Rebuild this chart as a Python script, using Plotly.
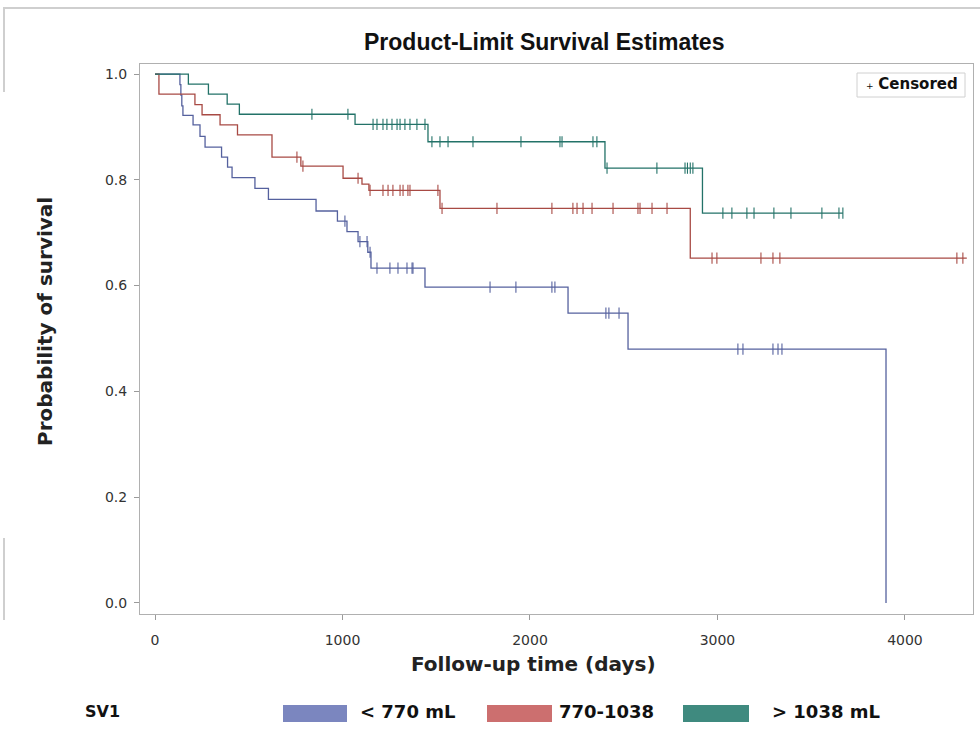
import plotly.graph_objects as go

# ---------------- data ----------------
group_labels = ["< 770 mL", "770-1038", "> 1038 mL"]

blue_times = [133, 138, 143, 149, 203, 240, 267, 355, 387, 411, 533, 605, 859, 973,
              1024, 1083, 1135, 1152, 1440, 2203, 2523, 3899]
blue_surv = [0.980, 0.960, 0.940, 0.922, 0.904, 0.882, 0.862, 0.843, 0.824, 0.804,
             0.784, 0.763, 0.741, 0.722, 0.702, 0.683, 0.663, 0.633, 0.597, 0.548,
             0.480, 0.0]
blue_end = 3899
blue_censor = [1013, 1093, 1131, 1147, 1184, 1253, 1296, 1344, 1371, 1376, 1787, 1925,
               2117, 2133, 2405, 2421, 2475, 3109, 3136, 3296, 3323, 3344]

red_times = [21, 213, 251, 347, 440, 624, 778, 1003, 1104, 1141, 1520, 2855]
red_surv = [0.962, 0.942, 0.923, 0.904, 0.885, 0.843, 0.826, 0.803, 0.792, 0.780,
            0.746, 0.652]
red_end = 4330
red_censor = [757, 789, 1083, 1147, 1216, 1243, 1269, 1307, 1323, 1349, 1360, 1509,
              1531, 1824, 2117, 2229, 2251, 2283, 2331, 2443, 2576, 2587, 2651, 2731,
              2971, 2997, 3232, 3296, 3333, 4277, 4309]

green_times = [178, 285, 385, 450, 1067, 1456, 2400, 2920]
green_surv = [0.981, 0.962, 0.943, 0.924, 0.905, 0.872, 0.822, 0.737]
green_end = 3669
green_censor = [837, 1029, 1163, 1184, 1216, 1237, 1264, 1291, 1307, 1333, 1360, 1397,
                1440, 1477, 1520, 1563, 1696, 1952, 2160, 2171, 2336, 2357, 2411, 2677,
                2827, 2840, 2855, 2869, 3029, 3077, 3157, 3195, 3301, 3392, 3557, 3648,
                3669]

x_ticks = [0, 1000, 2000, 3000, 4000]
y_ticks = [0.0, 0.2, 0.4, 0.6, 0.8, 1.0]

# ---------------- styling ----------------
line_colors = ["#55619e", "#a84a44", "#237268"]
swatch_colors = ["#7b86bf", "#cc6f6f", "#3f8a7f"]

W, H = 980, 740
L, R, T, B = 140, 973, 64, 614


def pxx(x):
    return (x - L) / (R - L)


def pxy(y):
    return (B - y) / (B - T)


def surv_at(t, times, surv):
    s = 1.0
    for ti, si in zip(times, surv):
        if ti <= t:
            s = si
        else:
            break
    return s


groups = [
    (blue_times, blue_surv, blue_end, blue_censor),
    (red_times, red_surv, red_end, red_censor),
    (green_times, green_surv, green_end, green_censor),
]

fig = go.Figure()

for i, (times, surv, end, cens) in enumerate(groups):
    xs = [0] + list(times)
    ys = [1.0] + list(surv)
    if end > times[-1]:
        xs.append(end)
        ys.append(surv[-1])
    fig.add_trace(go.Scatter(
        x=xs, y=ys, mode="lines", line=dict(color=line_colors[i], width=1.3, shape="hv"),
        name=group_labels[i], showlegend=False, hoverinfo="x+y+name"))
    cy = [surv_at(t, times, surv) for t in cens]
    fig.add_trace(go.Scatter(
        x=cens, y=cy, mode="markers",
        marker=dict(symbol="line-ns", size=8, line=dict(width=1.1, color=line_colors[i])),
        name=group_labels[i] + " censored", showlegend=False, hoverinfo="x+y+name"))

fig.update_layout(
    width=W, height=H,
    margin=dict(l=L, r=W - R, t=T, b=H - B, pad=0),
    paper_bgcolor="white", plot_bgcolor="white",
    showlegend=False,
    font=dict(family="DejaVu Sans", size=14, color="#333333"),
)

fig.update_xaxes(
    range=[-80, 4363], tickvals=x_ticks, ticks="outside", ticklen=5, tickcolor="#9a9a9a",
    showline=True, linecolor="#b0b0b0", linewidth=1, mirror=True, showgrid=False,
    zeroline=False, tickfont=dict(family="DejaVu Sans", size=14, color="#333333"),
    ticklabelstandoff=8,
)
fig.update_yaxes(
    range=[-0.021, 1.019], tickvals=y_ticks, tickformat=".1f", ticks="outside", ticklen=5,
    tickcolor="#9a9a9a", showline=True, linecolor="#b0b0b0", linewidth=1, mirror=True,
    showgrid=False, zeroline=False,
    tickfont=dict(family="DejaVu Sans", size=14, color="#333333"),
    ticklabelstandoff=4,
)

ann = []
# title
ann.append(dict(text="<b>Product-Limit Survival Estimates</b>", x=pxx(544), y=pxy(42),
                xref="paper", yref="paper", xanchor="center", yanchor="middle",
                showarrow=False,
                font=dict(family="Liberation Sans Narrow, Liberation Sans, Arial", size=23,
                          color="#111111")))
# axis titles
ann.append(dict(text="<b>Follow-up time (days)</b>", x=pxx(533), y=pxy(664),
                xref="paper", yref="paper", xanchor="center", yanchor="middle",
                showarrow=False, font=dict(family="DejaVu Sans", size=20, color="#222222")))
ann.append(dict(text="<b>Probability of survival</b>", x=pxx(45), y=pxy(322),
                xref="paper", yref="paper", xanchor="center", yanchor="middle",
                textangle=-90, showarrow=False,
                font=dict(family="DejaVu Sans", size=20, color="#222222")))
# censored inset legend
ann.append(dict(text="<span style='font-size:9px'>+</span> <b>Censored</b>",
                x=pxx(960), y=pxy(84), xref="paper", yref="paper", xanchor="right",
                yanchor="middle", showarrow=False,
                font=dict(family="DejaVu Sans", size=15, color="#111111")))
# bottom legend
ann.append(dict(text="<b>SV1</b>", x=pxx(83), y=pxy(711), xref="paper", yref="paper",
                xanchor="left", yanchor="middle", showarrow=False,
                font=dict(family="DejaVu Sans", size=16, color="#111111")))

swatch_x = [(283, 347), (487, 552), (683, 749)]
label_x = [358, 557, 770]
shapes = []
for i in range(3):
    x0, x1 = swatch_x[i]
    shapes.append(dict(type="rect", xref="paper", yref="paper",
                       x0=pxx(x0), x1=pxx(x1), y0=pxy(722), y1=pxy(705),
                       fillcolor=swatch_colors[i], line=dict(width=0)))
    txt = group_labels[i].replace("<", "&lt;").replace(">", "&gt;")
    ann.append(dict(text="<b>" + txt + "</b>", x=pxx(label_x[i]), y=pxy(711),
                    xref="paper", yref="paper", xanchor="left", yanchor="middle",
                    showarrow=False,
                    font=dict(family="DejaVu Sans", size=18, color="#111111")))

# inset box for "Censored"
shapes.append(dict(type="rect", xref="paper", yref="paper",
                   x0=pxx(857), x1=pxx(965), y0=pxy(97), y1=pxy(73),
                   fillcolor="rgba(0,0,0,0)", line=dict(color="#d0d0d0", width=1)))
# outer graph frame fragments
shapes.append(dict(type="line", xref="paper", yref="paper", x0=pxx(3), x1=pxx(980),
                   y0=pxy(8), y1=pxy(8), line=dict(color="#cfcfcf", width=2)))
shapes.append(dict(type="line", xref="paper", yref="paper", x0=pxx(4), x1=pxx(4),
                   y0=pxy(8), y1=pxy(92), line=dict(color="#cfcfcf", width=2)))
shapes.append(dict(type="line", xref="paper", yref="paper", x0=pxx(4), x1=pxx(4),
                   y0=pxy(538), y1=pxy(620), line=dict(color="#cfcfcf", width=2)))

fig.update_layout(annotations=ann, shapes=shapes)

fig.write_html("out.html")
